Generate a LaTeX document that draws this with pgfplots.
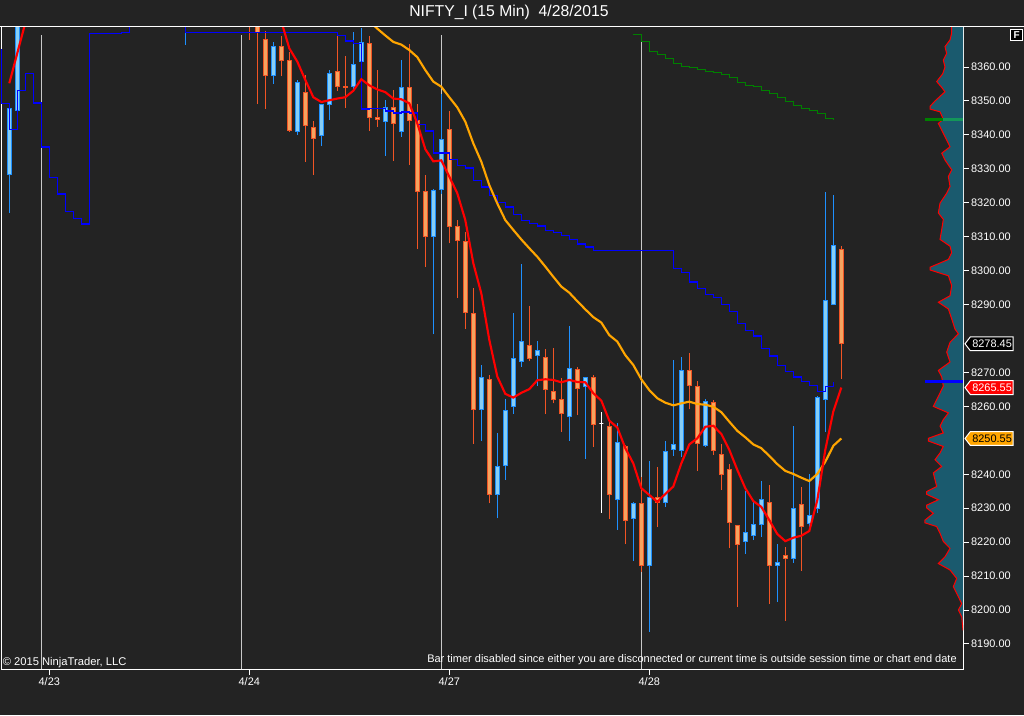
\documentclass[border=0pt]{standalone}
\usepackage{fontspec}
\setmainfont{Liberation Sans}
\usepackage{pgfplots}
\usepackage{pgfplotstable}
\pgfplotsset{compat=1.18}

\definecolor{bg}{RGB}{35,35,35}
\definecolor{upline}{RGB}{30,144,255}
\definecolor{upfill}{RGB}{135,206,245}
\definecolor{dnline}{RGB}{242,84,36}
\definecolor{dnfill}{RGB}{244,164,96}
\definecolor{maRed}{RGB}{255,0,0}
\definecolor{maOrange}{RGB}{255,165,0}
\definecolor{stepBlue}{RGB}{0,0,255}
\definecolor{stepGreen}{RGB}{0,128,0}
\definecolor{lightGreen}{RGB}{20,150,90}
\definecolor{sess}{RGB}{200,200,200}
\definecolor{vpfill}{RGB}{26,90,110}
\definecolor{flagRed}{RGB}{255,0,0}
\definecolor{flagOrange}{RGB}{255,165,0}

\newcommand\lbl{\fontsize{8.2}{9.5}\selectfont}

% 15-min candles: bar index, open, high, low, close
\pgfplotstableread{
i O H L C
1 8328.4 8348.0 8317.1 8347.8
2 8347.2 8385.0 8346.0 8378.0
23 8380.0 8390.0 8366.6 8385.0
31 8385.0 8390.0 8368.0 8375.0
32 8380.0 8385.0 8349.2 8370.3
33 8368.2 8370.5 8347.7 8357.6
34 8357.6 8367.4 8355.1 8366.1
35 8366.1 8369.1 8357.3 8362.0
36 8362.0 8364.4 8340.9 8341.2
37 8341.1 8356.1 8340.1 8355.5
38 8352.4 8357.6 8332.1 8342.8
39 8342.2 8344.1 8328.3 8339.0
40 8339.9 8349.2 8336.8 8349.0
41 8349.0 8359.1 8344.5 8358.1
42 8358.7 8370.3 8353.0 8354.3
43 8354.3 8363.2 8348.0 8353.9
44 8354.3 8370.3 8353.4 8360.8
45 8361.7 8371.5 8361.5 8367.3
46 8367.0 8369.1 8341.2 8345.2
47 8345.2 8359.1 8342.4 8344.6
48 8344.0 8350.3 8333.9 8348.1
49 8348.1 8353.1 8332.4 8343.4
50 8341.1 8362.0 8339.5 8354.0
51 8354.0 8366.8 8331.1 8344.3
52 8344.2 8349.1 8306.5 8323.4
53 8323.4 8328.2 8301.2 8310.1
54 8310.1 8324.0 8281.2 8323.7
55 8324.0 8352.0 8322.7 8338.7
56 8341.6 8347.0 8308.0 8313.1
57 8313.1 8314.9 8292.0 8309.0
58 8308.6 8311.3 8282.9 8287.7
59 8287.4 8294.8 8249.0 8259.1
60 8259.1 8272.1 8249.9 8268.6
61 8268.0 8269.2 8231.4 8234.1
62 8234.1 8252.2 8227.0 8242.2
63 8242.6 8262.1 8238.4 8258.8
64 8260.0 8287.4 8257.9 8274.2
65 8273.3 8302.1 8271.7 8279.2
66 8278.0 8289.5 8273.3 8274.2
67 8275.0 8279.2 8266.1 8276.5
68 8274.5 8276.8 8257.7 8265.1
69 8264.5 8277.1 8260.9 8262.1
70 8262.1 8268.3 8252.6 8258.0
71 8257.1 8283.6 8249.9 8271.2
72 8270.9 8271.5 8257.6 8265.3
73 8265.9 8268.8 8244.6 8268.6
74 8268.6 8269.2 8248.1 8254.7
75 8255.0 8258.5 8228.7 8255.0
76 8254.1 8255.9 8226.9 8234.1
77 8232.6 8255.0 8223.6 8249.5
78 8248.3 8248.6 8219.4 8226.5
79 8227.0 8231.8 8214.5 8231.5
80 8231.5 8239.1 8211.3 8213.1
81 8213.1 8243.8 8193.6 8233.3
82 8233.3 8242.1 8224.6 8231.8
83 8231.8 8249.8 8230.3 8246.8
84 8247.4 8273.6 8245.5 8248.9
85 8247.1 8274.5 8245.2 8270.6
86 8270.6 8275.7 8259.1 8266.2
87 8265.9 8267.4 8241.1 8249.2
88 8248.5 8262.1 8248.1 8261.5
89 8261.2 8261.9 8245.7 8247.1
90 8245.9 8248.8 8235.4 8240.0
91 8241.4 8242.9 8218.2 8225.8
92 8225.0 8225.2 8201.0 8219.4
93 8220.2 8235.1 8216.6 8222.9
94 8222.0 8231.8 8220.6 8225.3
95 8225.3 8238.0 8221.6 8232.6
96 8231.7 8236.7 8201.9 8213.2
97 8213.2 8219.4 8202.5 8214.1
98 8216.2 8218.5 8196.9 8215.3
99 8215.3 8254.2 8214.0 8230.0
100 8231.2 8236.3 8211.6 8224.7
101 8225.6 8240.0 8223.5 8227.9
102 8230.0 8263.1 8228.5 8262.7
103 8262.1 8323.2 8252.5 8291.3
104 8290.1 8322.3 8290.1 8307.4
105 8306.3 8307.2 8268.2 8278.45
}\candles

% volume profile: left edge of the histogram (bar units) per price
\pgfplotstableread{
x y
118.80 8371.8
118.80 8370.1
118.59 8368.0
117.96 8366.0
118.17 8364.0
117.75 8362.0
117.96 8360.0
117.67 8358.0
116.92 8355.7
117.55 8354.0
117.96 8352.7
116.71 8350.0
116.09 8348.4
116.09 8347.6
117.34 8346.8
117.75 8344.6
117.13 8343.4
117.55 8341.4
118.17 8338.5
118.59 8336.5
117.55 8334.6
117.96 8332.6
118.80 8329.7
118.38 8327.7
118.59 8324.8
118.17 8322.8
117.34 8319.9
117.13 8317.0
117.75 8315.1
117.55 8312.1
117.34 8309.2
118.59 8307.2
118.80 8305.3
118.38 8303.3
116.09 8301.0
116.09 8300.2
118.38 8298.5
118.80 8295.6
118.59 8292.6
117.13 8290.7
118.38 8288.7
118.80 8285.8
119.21 8282.8
119.63 8281.4
118.59 8278.9
118.17 8276.0
118.59 8273.1
117.13 8270.6
117.55 8268.7
117.75 8266.0
117.34 8264.0
116.92 8262.0
116.50 8260.0
118.38 8258.1
117.75 8256.1
117.34 8254.2
117.75 8252.2
115.88 8250.6
115.88 8249.8
117.75 8248.2
117.34 8246.3
116.71 8244.3
117.55 8242.3
116.50 8240.4
116.71 8238.4
116.92 8236.4
115.67 8234.9
115.67 8234.1
117.13 8232.5
115.67 8230.9
115.67 8230.1
116.50 8228.5
115.46 8226.5
115.46 8225.7
116.92 8224.6
117.34 8222.6
117.75 8220.2
118.59 8218.2
117.96 8215.7
117.13 8213.7
118.59 8211.8
119.42 8209.3
119.00 8206.9
119.42 8204.9
120.05 8201.9
119.63 8200.0
120.05 8198.0
120.17 8195.1
120.21 8194.0
}\profile

\begin{document}
\begin{tikzpicture}
\fill[bg] (0,0) rectangle (768pt,536.25pt);
\pgfplotstablegetrowsof{\candles}
\pgfmathtruncatemacro\lastrow{\pgfplotsretval-1}
\begin{axis}[
  at={(0.75pt,34.5pt)}, anchor=south west,
  scale only axis, width=721.5pt, height=481.5pt,
  xmin=-0.0375, xmax=120.2125, ymin=8182.63, ymax=8371.79,
  axis line style={white, line width=0.75pt},
  xtick={6,31,56,81}, xticklabels={4/23,4/24,4/27,4/28},
  xtick pos=bottom,
  ytick={8190,8200,8210,8220,8230,8240,8260,8270,8290,8300,8310,8320,8330,8340,8350,8360},
  ytick pos=right, yticklabel pos=right,
  tick align=outside, major tick length=4.3pt,
  tick style={white, line width=0.75pt},
  ticklabel style={font=\lbl, text=white},
  /pgf/number format/assume math mode=true,
  yticklabel style={anchor=west, inner sep=0pt, xshift=1.6pt,
    /pgf/number format/fixed, /pgf/number format/fixed zerofill,
    /pgf/number format/precision=2, /pgf/number format/1000 sep={}},
  xticklabel style={anchor=north, inner sep=0pt, yshift=-2.3pt},
]
% session breaks
\addplot[sess, line width=0.75pt, forget plot] coordinates {(5,8182.63) (5,8369.4)};
\addplot[sess, line width=0.75pt, forget plot] coordinates {(30,8182.63) (30,8369.4)};
\addplot[sess, line width=0.75pt, forget plot] coordinates {(55,8182.63) (55,8369.4)};
\addplot[sess, line width=0.75pt, forget plot] coordinates {(80,8182.63) (80,8369.4)};

% volume profile
\addplot[fill=vpfill, draw=none, forget plot] table[x=x, y=y] {\profile}
  -- (axis cs:120.2125,8194.0) -- (axis cs:120.2125,8371.8) -- cycle;
\addplot[maRed, line width=0.75pt, forget plot] table[x=x, y=y] {\profile};
\addplot[stepGreen, line width=2.25pt, forget plot] coordinates {(115.46,8344.4) (117.75,8344.4)};
\addplot[lightGreen, line width=2.25pt, forget plot] coordinates {(117.75,8344.4) (120.2125,8344.4)};
\addplot[stepBlue, line width=2.25pt, forget plot] coordinates {(115.46,8267.2) (120.2125,8267.2)};

% candles
\pgfplotsforeachungrouped \r in {0,...,\lastrow}{%
  \pgfplotstablegetelem{\r}{i}\of\candles \let\ci\pgfplotsretval
  \pgfplotstablegetelem{\r}{O}\of\candles \let\cO\pgfplotsretval
  \pgfplotstablegetelem{\r}{H}\of\candles \let\cH\pgfplotsretval
  \pgfplotstablegetelem{\r}{L}\of\candles \let\cL\pgfplotsretval
  \pgfplotstablegetelem{\r}{C}\of\candles \let\cC\pgfplotsretval
  \pgfmathsetmacro\xa{\ci-0.25}%
  \pgfmathsetmacro\xb{\ci+0.25}%
  \ifdim\cC pt>\cO pt \def\lc{upline}\def\fc{upfill}\else
    \ifdim\cC pt<\cO pt \def\lc{dnline}\def\fc{dnfill}\else
      \def\lc{white}\def\fc{white}\fi\fi
  \edef\doit{%
    \noexpand\addplot[draw=\lc, line width=0.75pt, forget plot]
      coordinates {(\ci,\cL) (\ci,\cH)};
    \noexpand\addplot[draw=\lc, fill=\fc, line width=0.75pt, forget plot]
      coordinates {(\xa,\cO) (\xb,\cO) (\xb,\cC) (\xa,\cC)} -- cycle;
  }\doit
}

% blue step line
\addplot[stepBlue, line width=1.1pt, const plot mark left, forget plot] coordinates {
(-0.04,8365.0) (0,8349.3) (1,8341.6) (2,8353.1) (3,8358.1) (4,8349.4) (5,8336.5) (6,8327.5)
(7,8322.6) (8,8317.5) (9,8315.4) (10,8313.7) (11,8369.9) (15,8370.2) (16,8376.0) (23,8370.2)
(42,8369.3) (43,8367.6) (44,8367.0) (45,8347.6) (46,8347.8) (48,8347.0) (49,8346.4) (50,8346.7)
(51,8346.4) (52,8343.1) (53,8341.1) (54,8334.6) (56,8332.8) (57,8331.0) (58,8330.2) (59,8326.6)
(60,8324.6) (61,8322.2) (62,8320.1) (63,8318.7) (64,8316.6) (65,8314.8) (66,8313.9) (67,8313.1)
(68,8311.9) (69,8311.3) (70,8310.4) (71,8309.2) (72,8307.8) (73,8306.9) (74,8306.0) (84,8300.7)
(85,8299.5) (86,8296.6) (87,8294.8) (88,8293.0) (89,8292.1) (90,8290.1) (91,8288.0) (92,8284.5)
(93,8282.4) (94,8280.7) (95,8277.1) (96,8274.8) (97,8272.1) (98,8270.3) (99,8268.6) (100,8267.4)
(101,8266.2) (102,8264.4) (103,8265.9) (104,8267.1)};

% green step line
\addplot[stepGreen, line width=0.9pt, const plot mark left, forget plot] coordinates {
(79,8369.6) (80,8367.6) (81,8364.6) (82,8363.7) (83,8362.6) (84,8361.1) (85,8360.2) (86,8359.9)
(87,8359.3) (88,8358.7) (89,8358.4) (90,8357.8) (91,8357.0) (92,8355.5) (93,8354.6) (94,8354.3)
(95,8353.1) (96,8352.3) (97,8351.1) (98,8349.9) (99,8348.7) (100,8347.8) (101,8347.2) (102,8346.4)
(103,8344.9) (104,8344.3)};

% slow moving average (orange)
\addplot[maOrange, line width=1.6pt, forget plot] coordinates {
(46,8373.5) (47,8371.3) (48,8369.3) (49,8367.4) (50,8366.6) (51,8365.0) (52,8362.9) (53,8359.1)
(54,8355.7) (55,8354.2) (56,8351.1) (57,8348.1) (58,8343.9) (59,8337.5) (60,8332.1) (61,8325.2)
(62,8319.8) (63,8314.9) (64,8312.0) (65,8309.2) (66,8306.6) (67,8304.1) (68,8301.2) (69,8298.2)
(70,8295.3) (71,8293.5) (72,8291.0) (73,8288.6) (74,8286.3) (75,8284.7) (76,8281.0) (77,8279.1)
(78,8275.1) (79,8272.2) (80,8268.0) (81,8264.8) (82,8262.4) (83,8261.1) (84,8260.3) (85,8260.9)
(86,8261.4) (87,8260.7) (88,8260.5) (89,8259.9) (90,8258.3) (91,8255.5) (92,8252.8) (93,8250.9)
(94,8248.8) (95,8247.7) (96,8245.4) (97,8243.0) (98,8241.0) (99,8240.1) (100,8239.0) (101,8238.0)
(102,8240.1) (103,8243.7) (104,8248.4) (105,8250.55)};

% fast moving average (red)
\addplot[maRed, line width=1.6pt, forget plot] coordinates {(1,8355.2) (2,8364.1) (3,8373.0)};
\addplot[maRed, line width=1.6pt, forget plot] coordinates {
(35,8373.5) (36,8365.5) (37,8361.6) (38,8356.2) (39,8351.1) (40,8349.7) (41,8350.2) (42,8350.7)
(43,8351.1) (44,8353.0) (45,8356.4) (46,8354.6) (47,8353.4) (48,8352.6) (49,8350.7) (50,8350.5)
(51,8349.3) (52,8343.4) (53,8335.8) (54,8332.2) (55,8332.5) (56,8327.7) (57,8322.8) (58,8314.9)
(59,8302.2) (60,8293.3) (61,8279.6) (62,8268.8) (63,8263.7) (64,8262.6) (65,8264.0) (66,8265.1)
(67,8267.7) (68,8268.0) (69,8267.8) (70,8267.1) (71,8267.8) (72,8267.2) (73,8267.1) (74,8263.9)
(75,8261.7) (76,8255.8) (77,8253.8) (78,8247.7) (79,8243.2) (80,8235.9) (81,8233.9) (82,8231.9)
(83,8234.2) (84,8236.4) (85,8243.2) (86,8248.8) (87,8250.6) (88,8254.0) (89,8254.3) (90,8251.9)
(91,8247.2) (92,8241.3) (93,8235.9) (94,8232.1) (95,8230.4) (96,8226.5) (97,8222.4) (98,8220.3)
(99,8221.3) (100,8221.9) (101,8223.3) (102,8232.4) (103,8247.2) (104,8258.5) (105,8265.55)};

\coordinate (p1) at (axis cs:120.2125,8278.45);
\coordinate (p2) at (axis cs:120.2125,8265.55);
\coordinate (p3) at (axis cs:120.2125,8250.55);
\end{axis}

% price flags
\begin{scope}[shift={(p1)}]
  \draw[white, fill=black, line width=0.75pt] (1.5pt,0) -- (5.5pt,5.2pt) -- (37.5pt,5.2pt) -- (37.5pt,-5.2pt) -- (5.5pt,-5.2pt) -- cycle;
  \node[text=white, font=\lbl, inner sep=0pt] at (21.8pt,0) {8278.45};
\end{scope}
\begin{scope}[shift={(p2)}]
  \draw[white, fill=flagRed, line width=0.75pt] (1.5pt,0) -- (5.5pt,5.2pt) -- (37.5pt,5.2pt) -- (37.5pt,-5.2pt) -- (5.5pt,-5.2pt) -- cycle;
  \node[text=white, font=\lbl, inner sep=0pt] at (21.8pt,0) {8265.55};
\end{scope}
\begin{scope}[shift={(p3)}]
  \draw[white, fill=flagOrange, line width=0.75pt] (1.5pt,0) -- (5.5pt,5.2pt) -- (37.5pt,5.2pt) -- (37.5pt,-5.2pt) -- (5.5pt,-5.2pt) -- cycle;
  \node[text=black, font=\lbl, inner sep=0pt] at (21.8pt,0) {8250.55};
\end{scope}

% texts in image pixel coordinates
\begin{scope}[x=0.75pt, y=-0.75pt, yshift=536.25pt]
  \draw[white, line width=0.75pt] (0,27) -- (1024,27);
  \node[text=white, font=\fontsize{11.8}{14}\selectfont, inner sep=0pt] at (509,12.5) {NIFTY\_I (15 Min)\ \ 4/28/2015};
  \node[text=white, font=\fontsize{8.4}{9.5}\selectfont, anchor=west, inner sep=0pt] at (2.5,663) {© 2015 NinjaTrader, LLC};
  \node[text=white, font=\fontsize{8.25}{9.5}\selectfont, anchor=east, inner sep=0pt] at (957,659.5) {Bar timer disabled since either you are disconnected or current time is outside session time or chart end date};
  \node[draw=white, line width=0.75pt, fill=black, text=white, font=\fontsize{7.5}{8}\bfseries\selectfont, minimum width=8.6pt, minimum height=8.6pt, inner sep=0pt] at (1016.7,34.9) {F};
\end{scope}

\pgfresetboundingbox
\path[use as bounding box] (0,0) rectangle (768pt,536.25pt);
\end{tikzpicture}
\end{document}
